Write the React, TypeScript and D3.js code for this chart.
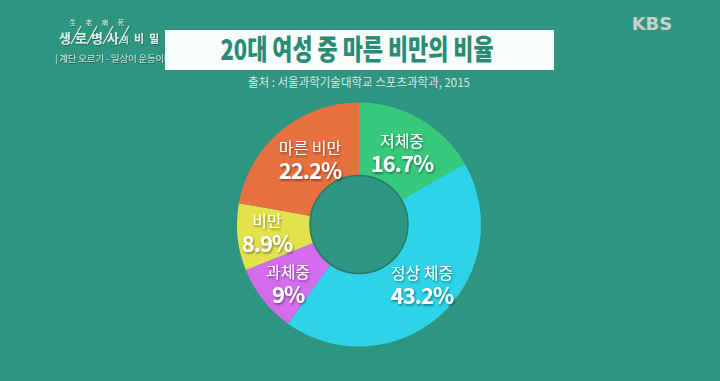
import React from "react";
import * as d3 from "d3";

const categories = ["저체중", "정상 체중", "과체중", "비만", "마른 비만"];
const values = [16.7, 43.2, 9, 8.9, 22.2];
const colors = ["#37c97c", "#2cd3e9", "#d46cf0", "#e3e24c", "#e9703f"];
const titleText = "20대 여성 중 마른 비만의 비율";
const sourceText = "출처 : 서울과학기술대학교 스포츠과학과, 2015";
const logoSyllables = ["생", "로", "병", "사"];
const logoHanja = ["生", "老", "病", "死"];
const labelPos: [number, number][] = [
  [402, 152],
  [422, 284],
  [288, 283],
  [267, 232],
  [310, 159],
];

const W = 720;
const H = 381;
const FONT = "'Noto Sans CJK KR', 'Noto Sans', sans-serif";

export default function App() {
  const cx = 359;
  const cy = 224.5;
  const outerR = 122;
  const innerR = 49;
  const pie = d3
    .pie<number>()
    .sort(null)
    .value((d) => d)
    .startAngle(0)
    .endAngle(2 * Math.PI);
  const arcs = pie(values);
  const arc = d3.arc<d3.PieArcDatum<number>>().innerRadius(innerR).outerRadius(outerR);

  return (
    <svg
      width={W}
      height={H}
      style={{ position: "absolute", left: 0, top: 0, display: "block" }}
      fontFamily={FONT}
    >
      <defs>
        <filter id="sh" x="-20%" y="-20%" width="140%" height="140%">
          <feDropShadow dx="1" dy="1.5" stdDeviation="0.8" floodColor="#000" floodOpacity="0.45" />
        </filter>
        <filter id="sh2" x="-20%" y="-20%" width="140%" height="140%">
          <feDropShadow dx="0.5" dy="1" stdDeviation="0.6" floodColor="#000" floodOpacity="0.35" />
        </filter>
      </defs>
      <rect width={W} height={H} fill="#2e9580" />

      {/* program logo */}
      <g filter="url(#sh2)">
        {logoHanja.map((h, i) => (
          <text key={h} x={73 + i * 16} y={25} fontSize={6.5} fill="#d8e8e4" textAnchor="middle">
            {h}
          </text>
        ))}
        {logoSyllables.map((s, i) => (
          <g key={s}>
            <line
              x1={71 + i * 16}
              y1={44}
              x2={81 + i * 16}
              y2={26}
              stroke="#e4ece9"
              strokeWidth={1.2}
            />
            <text x={65 + i * 16} y={43} fontSize={13} fontWeight="bold" fill="#e4ece9" textAnchor="middle">
              {s}
            </text>
          </g>
        ))}
        <text x={125} y={43} fontSize={8} fontWeight="bold" fill="#e4ece9" textAnchor="middle">
          의
        </text>
        <text x={139} y={43} fontSize={11} fontWeight="bold" fill="#e4ece9" textAnchor="middle">
          비
        </text>
        <text x={154} y={43} fontSize={11} fontWeight="bold" fill="#e4ece9" textAnchor="middle">
          밀
        </text>
        <text x={55} y={62} fontSize={9.5} fill="#cfe0db" letterSpacing={-0.2}>
          | 계단 오르기 - 일상이 운동이다
        </text>
      </g>

      {/* KBS logo */}
      <text x={652} y={30} fontSize={18} fontWeight="bold" fill="#c9cfcd" textAnchor="middle" fontFamily="'DejaVu Sans', sans-serif">
        KBS
      </text>

      {/* title box */}
      <rect x={165} y={30} width={389} height={40} fill="#f8fcfb" />
      <text
        x={357}
        y={60}
        fontSize={28}
        fontWeight={900}
        fill="#2a8c74"
        textAnchor="middle"
        textLength={273}
        lengthAdjust="spacingAndGlyphs"
      >
        {titleText}
      </text>
      <text x={359} y={87} fontSize={12} fill="#dbe8e4" textAnchor="middle" textLength={222} lengthAdjust="spacingAndGlyphs">
        {sourceText}
      </text>

      {/* donut */}
      <g transform={`translate(${cx},${cy})`}>
        {arcs.map((a, i) => (
          <path key={categories[i]} d={arc(a) || ""} fill={colors[i]} />
        ))}
        <circle r={innerR} fill="#2e9580" stroke="#277a69" strokeWidth={1.5} />
      </g>

      {arcs.map((a, i) => {
        const [lx, ly] = labelPos[i];
        return (
          <g key={"l" + i} filter="url(#sh)">
            <text x={lx} y={ly - 5} fontSize={16} fill="#ffffff" textAnchor="middle">
              {categories[i]}
            </text>
            <text x={lx} y={ly + 20} fontSize={22} fontWeight="bold" fill="#ffffff" textAnchor="middle" letterSpacing={-1}>
              {values[i] + "%"}
            </text>
          </g>
        );
      })}
    </svg>
  );
}
